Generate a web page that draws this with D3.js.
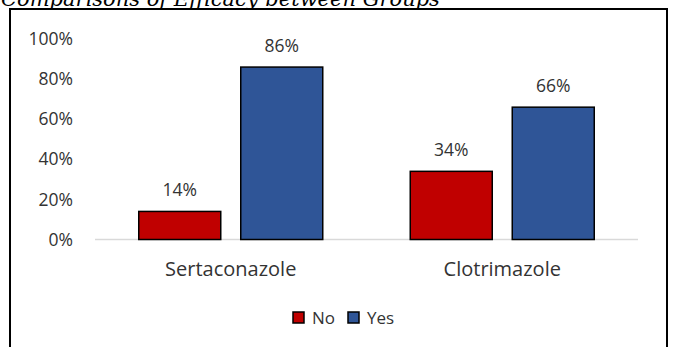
<!DOCTYPE html>
<html>
<head>
<meta charset="utf-8">
<script src="https://cdn.jsdelivr.net/npm/d3@7"></script>
<style>
  html, body { margin: 0; padding: 0; background: #fff; }
  svg { display: block; }
  text { font-family: "Open Sans", sans-serif; fill: #333; }
</style>
</head>
<body>
<svg id="chart" width="674" height="347"></svg>
<script>
const title = "Comparisons of Efficacy between Groups";
const categories = ["Sertaconazole", "Clotrimazole"];
const seriesNames = ["No", "Yes"];
const noValues = [14, 34];
const yesValues = [86, 66];
const yTicks = [0, 20, 40, 60, 80, 100];
const colors = ["#C00000", "#2F5597"];

const svg = d3.select("#chart");

// frame
svg.append("rect").attr("x", 10).attr("y", 9).attr("width", 657).attr("height", 345)
  .attr("fill", "#fff").attr("stroke", "#000").attr("stroke-width", 2);

// title (partially cut off at top, as in the reference)
svg.append("text").attr("x", 1).attr("y", 6)
  .style("font-family", "'DejaVu Serif', serif").style("font-style", "italic")
  .style("font-size", "21px").style("fill", "#000")
  .text(title);

const plot = { left: 95, right: 638, top: 39, bottom: 239.5 };

const x0 = d3.scaleBand().domain(categories).range([plot.left, plot.right]).paddingInner(0).paddingOuter(0);
const x1 = d3.scaleBand().domain(seriesNames).range([43.75, 227.75]).paddingInner(20 / 102);
const y = d3.scaleLinear().domain([0, 100]).range([plot.bottom, plot.top]);

// y tick labels
const yAxis = d3.axisLeft(y).tickValues(yTicks).tickFormat(d => d + "%").tickSize(0).tickPadding(0);
const gy = svg.append("g").attr("transform", `translate(${plot.left - 22},0)`).call(yAxis);
gy.select(".domain").remove();
gy.selectAll("text").style("font-family", "'Open Sans', sans-serif").style("font-size", "17.5px").attr("fill", "#333");

// baseline
svg.append("line").attr("x1", plot.left).attr("x2", plot.right)
  .attr("y1", plot.bottom).attr("y2", plot.bottom)
  .attr("stroke", "#D9D9D9").attr("stroke-width", 1.5);

const data = categories.map((c, i) => ({ cat: c, values: [noValues[i], yesValues[i]] }));

const groups = svg.append("g").selectAll("g").data(data).join("g")
  .attr("transform", d => `translate(${x0(d.cat)},0)`);

groups.selectAll("rect").data(d => d.values.map((v, j) => ({ s: seriesNames[j], v, j })))
  .join("rect")
  .attr("x", d => x1(d.s))
  .attr("y", d => y(d.v))
  .attr("width", x1.bandwidth())
  .attr("height", d => y(0) - y(d.v))
  .attr("fill", d => colors[d.j])
  .attr("stroke", "#000").attr("stroke-width", 1.5);

groups.selectAll("text.lbl").data(d => d.values.map((v, j) => ({ s: seriesNames[j], v, j })))
  .join("text").attr("class", "lbl")
  .attr("x", d => x1(d.s) + x1.bandwidth() / 2)
  .attr("y", d => y(d.v) - 15)
  .attr("text-anchor", "middle")
  .style("font-size", "17.5px")
  .text(d => d.v + "%");

// category labels
const xAxis = d3.axisBottom(x0).tickSize(0).tickPadding(0);
const gx = svg.append("g").attr("transform", `translate(0,276)`).call(xAxis);
gx.select(".domain").remove();
gx.selectAll("text").attr("y", 0).attr("dy", null)
  .style("font-family", "'Open Sans', sans-serif").style("font-size", "20px").attr("fill", "#333");

// legend
const legendX = [293, 348];
const lg = svg.append("g").selectAll("g").data(seriesNames).join("g")
  .attr("transform", (d, i) => `translate(${legendX[i]},312)`);
lg.append("rect").attr("width", 11).attr("height", 11)
  .attr("fill", (d, i) => colors[i]).attr("stroke", "#000").attr("stroke-width", 1.5);
lg.append("text").attr("x", 19).attr("y", 6).attr("dy", "0.35em")
  .style("font-size", "17px").text(d => d);
</script>
</body>
</html>
